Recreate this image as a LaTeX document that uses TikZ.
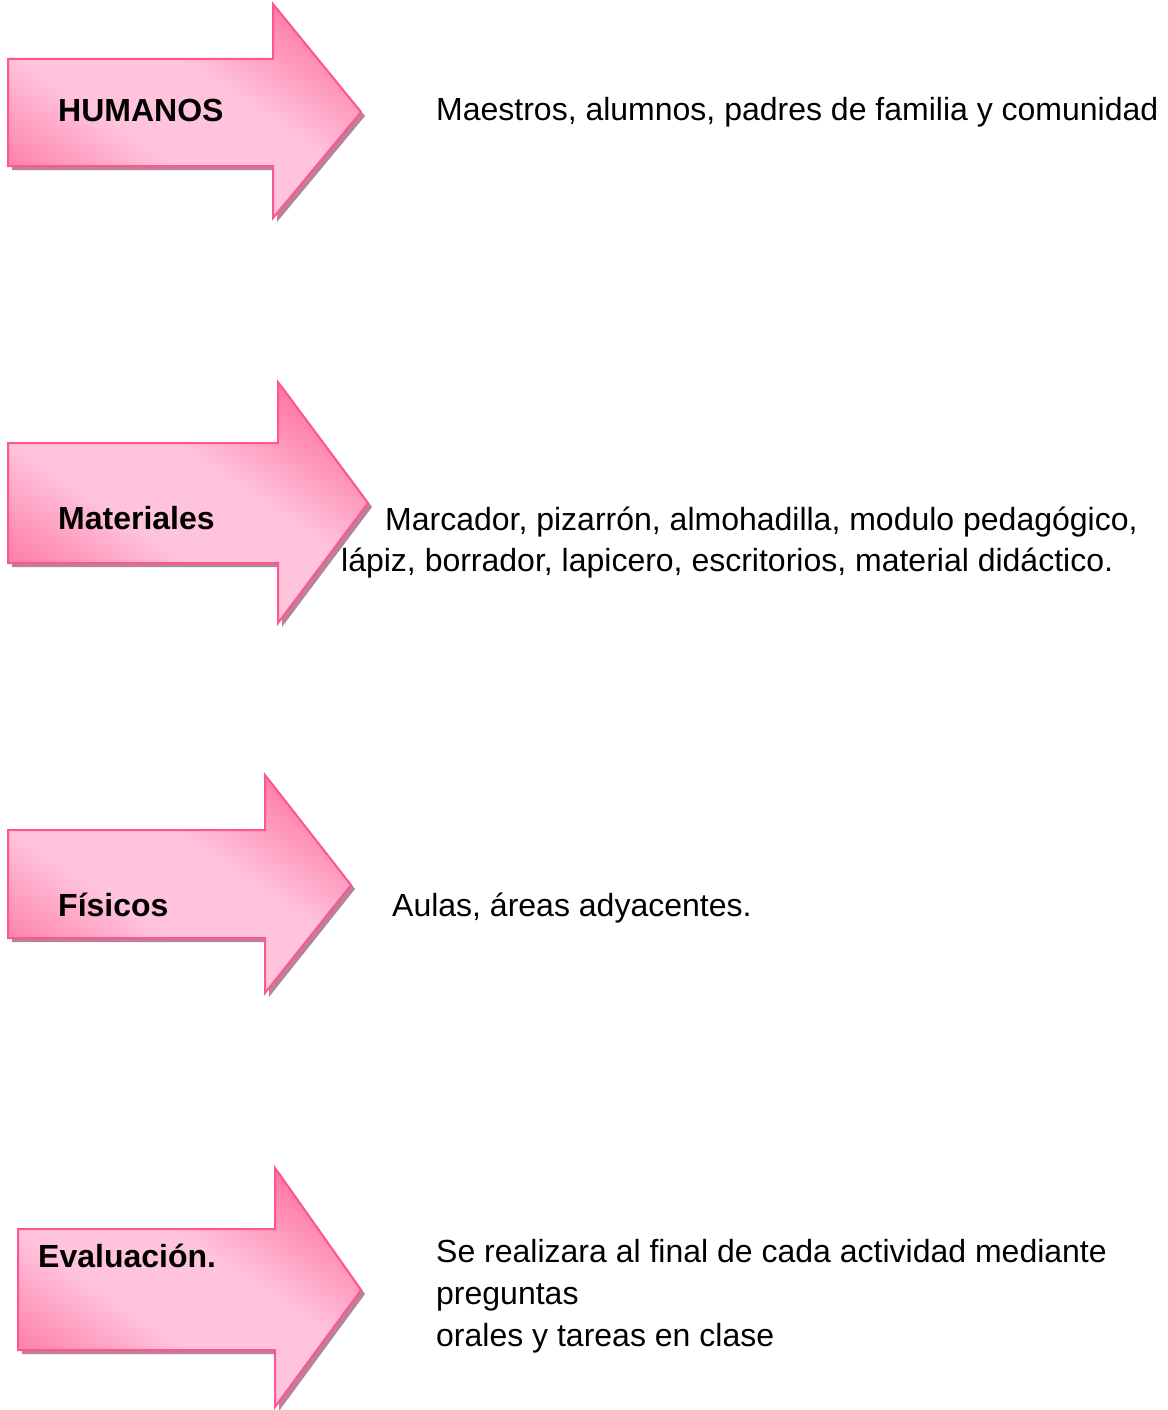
\documentclass[tikz,border=0pt]{standalone}
\usepackage{fontspec}
\setmainfont{Liberation Sans}
\definecolor{pkdark}{RGB}{255,122,168}
\definecolor{pklight}{RGB}{255,196,220}
\definecolor{pkborder}{RGB}{255,85,145}
\definecolor{pkshadow}{RGB}{185,130,155}
\pgfdeclarehorizontalshading{pinkband}{100bp}{color(0bp)=(pkdark); color(31bp)=(pkdark); color(44bp)=(pklight); color(55bp)=(pklight); color(68bp)=(pkdark); color(100bp)=(pkdark)}
% #1 x0, #2 head base x, #3 tip x, #4 head top y, #5 shaft top y, #6 tip y, #7 shaft bottom y, #8 head bottom y
\newcommand\pinkarrow[8]{%
  \fill[arrshadow] (#1+4,#5+4) -- (#2+4,#5+4) -- (#2+4,#4+4) -- (#3+4,#6+4) -- (#2+4,#8+4) -- (#2+4,#7+4) -- (#1+4,#7+4) -- cycle;
  \begin{scope}
    \clip (#1,#5) -- (#2,#5) -- (#2,#4) -- (#3,#6) -- (#2,#8) -- (#2,#7) -- (#1,#7) -- cycle;
    \shade[shading=pinkband,shading angle=56] ({(#1+#3)/2-200},{#6-200}) rectangle ({(#1+#3)/2+200},{#6+200});
  \end{scope}
  \draw[arrborder] (#1,#5) -- (#2,#5) -- (#2,#4) -- (#3,#6) -- (#2,#8) -- (#2,#7) -- (#1,#7) -- cycle;
}
\begin{document}
\begin{tikzpicture}[x=1pt,y=-1pt,
  arrshadow/.style={fill=pkshadow},
  arrborder/.style={draw=pkborder,line width=2pt,line join=miter},
  lbl/.style={anchor=base west,inner sep=0pt,font=\fontsize{32}{41}\selectfont\bfseries},
  desc/.style={anchor=base west,inner sep=0pt,font=\fontsize{32}{41}\selectfont}]
\useasboundingbox[fill=white] (0,0) rectangle (1167,1410);

\pinkarrow{8}{273}{361}{4}{59}{112}{166}{218}
\pinkarrow{8}{278}{368}{382}{443}{503}{563}{623}
\pinkarrow{8}{265}{351}{775}{830}{885}{938}{993}
\pinkarrow{18}{275}{361}{1168}{1229}{1290}{1350}{1407}

\node[lbl] (hum) at (58,122) {HUMANOS};
\node[desc] (humd) at (436,121) {Maestros, alumnos, padres de familia y comunidad};
\node[lbl] (mat) at (58,529) {Materiales};
\node[desc] (matd1) at (385,530) {Marcador, pizarrón, almohadilla, modulo pedagógico,};
\node[desc] (matd2) at (341,571) {lápiz, borrador, lapicero, escritorios, material didáctico.};
\node[lbl] (fis) at (58,916) {Físicos};
\node[desc] (fisd) at (392,916) {Aulas, áreas adyacentes.};
\node[lbl] (eva) at (38,1267) {Evaluación.};
\node[desc] (evad1) at (436,1262) {Se realizara al final de cada actividad mediante};
\node[desc] (evad2) at (436,1304) {preguntas};
\node[desc] (evad3) at (436,1346) {orales y tareas en clase};
\end{tikzpicture}
\end{document}
